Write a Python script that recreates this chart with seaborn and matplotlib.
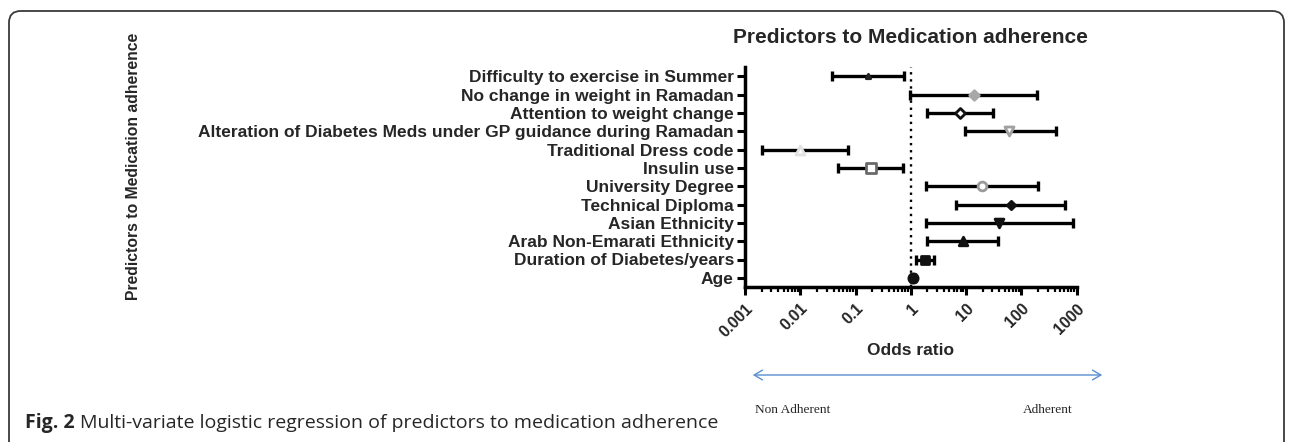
import numpy as np
import pandas as pd
import matplotlib
matplotlib.use("Agg")
import matplotlib.pyplot as plt
import seaborn as sns
from matplotlib.patches import FancyBboxPatch, FancyArrowPatch
from matplotlib.ticker import LogLocator, FixedLocator, FixedFormatter, NullFormatter

# ---------------- data ----------------
predictors = [
    "Difficulty to exercise in Summer",
    "No change in weight in Ramadan",
    "Attention to weight change",
    "Alteration of Diabetes Meds under GP guidance during Ramadan",
    "Traditional Dress code",
    "Insulin use",
    "University Degree",
    "Technical Diploma",
    "Asian Ethnicity",
    "Arab Non-Emarati Ethnicity",
    "Duration of Diabetes/years",
    "Age",
]
odds_ratio = [0.17, 13.7, 7.9, 61, 0.010, 0.19, 19.4, 65, 39, 8.8, 1.83, 1.10]
ci_low = [0.038, 0.98, 1.96, 9.4, 0.0020, 0.049, 1.88, 6.6, 1.88, 2.0, 1.26, 1.03]
ci_high = [0.77, 196, 31, 420, 0.073, 0.71, 200, 620, 860, 38, 2.66, 1.17]
x_tick_values = [0.001, 0.01, 0.1, 1, 10, 100, 1000]
x_tick_labels = ["0.001", "0.01", "0.1", "1", "10", "100", "1000"]

# marker styles (marker, face colour, edge colour, size)
marker_styles = [
    ("^", "#222222", "#222222", 10),
    ("D", "#a8a8a8", "#a8a8a8", 24),
    ("D", "white", "#111111", 26),
    ("v", "white", "#a0a0a0", 42),
    ("^", "white", "#e2e2e2", 42),
    ("s", "white", "#6a6a6a", 46),
    ("o", "white", "#9a9a9a", 40),
    ("D", "#111111", "#111111", 18),
    ("v", "#111111", "#111111", 40),
    ("^", "#111111", "#111111", 38),
    ("s", "#111111", "#111111", 36),
    ("o", "#111111", "#111111", 44),
]

df = pd.DataFrame({"predictor": predictors, "or": odds_ratio,
                   "lo": ci_low, "hi": ci_high})
df["y"] = np.arange(len(df))

# ---------------- style ----------------
sns.set_style("ticks")
plt.rcParams["font.family"] = ["Liberation Sans", "DejaVu Sans"]
plt.rcParams["font.weight"] = "bold"

W, H = 1290, 442
fig = plt.figure(figsize=(W / 100, H / 100), dpi=100)
ax = fig.add_axes([745 / W, 1 - 287 / H, (1076.5 - 745) / W, (287 - 67) / H])

# error bars
xerr = np.vstack([df["or"] - df["lo"], df["hi"] - df["or"]])
ax.errorbar(df["or"], df["y"], xerr=xerr, fmt="none", ecolor="black",
            elinewidth=2.4, capsize=3.8, capthick=2.4, zorder=2)

# markers via seaborn scatter (one call per style)
for i, (m, fc, ec, s) in enumerate(marker_styles):
    sub = df.iloc[[i]]
    sns.scatterplot(data=sub, x="or", y="y", marker=m, s=s, color=fc,
                    edgecolor=ec, linewidth=2.0, ax=ax, zorder=3, legend=False)

# reference line at OR = 1
ax.axvline(1, color="black", linestyle=(0, (1, 2.0)), linewidth=1.7, zorder=1)

ax.set_xscale("log")
ax.set_xlim(0.001, 1000)
ax.set_ylim(len(df) - 0.5, -0.5)
ax.set_yticks(df["y"])
ax.set_yticklabels(df["predictor"], fontsize=12.5, fontweight="bold")
ax.xaxis.set_major_locator(FixedLocator(x_tick_values))
ax.xaxis.set_major_formatter(FixedFormatter(x_tick_labels))
ax.xaxis.set_minor_locator(LogLocator(base=10, subs=np.arange(2, 10), numticks=20))
ax.xaxis.set_minor_formatter(NullFormatter())
for lab in ax.get_xticklabels():
    lab.set_rotation(45)
    lab.set_ha("right")
    lab.set_va("top")
    lab.set_rotation_mode("anchor")
    lab.set_fontsize(11.5)
    lab.set_fontweight("bold")

ax.tick_params(axis="both", which="major", length=6, width=2.2, color="black", pad=2)
ax.tick_params(axis="x", which="minor", length=3.5, width=1.6, color="black")
ax.tick_params(axis="x", which="major", pad=4)
for side in ["left", "bottom"]:
    ax.spines[side].set_linewidth(2.5)
    ax.spines[side].set_color("black")
sns.despine(ax=ax)
ax.set_xlabel("Odds ratio", fontsize=12.5, fontweight="bold", labelpad=2)
ax.set_ylabel("")
ax.set_title("Predictors to Medication adherence", fontsize=15,
             fontweight="bold", pad=17)

fig.text(133 / W, 1 - 166 / H, "Predictors to Medication adherence",
         rotation=90, ha="center", va="center", fontsize=11.3, fontweight="bold")

# direction arrow below the axis
arrow = FancyArrowPatch((750 / W, 1 - 375 / H), (1105 / W, 1 - 375 / H),
                        transform=fig.transFigure, arrowstyle="<->,head_length=6,head_width=3.5",
                        color="#5b8ed0", linewidth=1.0, mutation_scale=1)
fig.patches.append(arrow)
fig.text(793 / W, 1 - 410 / H, "Non Adherent", ha="center", va="center",
         fontsize=9.6, family="Liberation Serif", fontweight="normal")
fig.text(1048 / W, 1 - 410 / H, "Adherent", ha="center", va="center",
         fontsize=9.6, family="Liberation Serif", fontweight="normal")

# outer rounded frame (open at the bottom)
frame = FancyBboxPatch((9 / W, -0.2), (1284 - 9) / W, 1.2 - 11 / H,
                       boxstyle="round,pad=0,rounding_size=0.009",
                       transform=fig.transFigure, fill=False,
                       edgecolor="#3a3a3a", linewidth=1.3, mutation_aspect=W / H)
fig.patches.append(frame)

# caption
fig.text(25 / W, 1 - 423 / H, "Fig. 2", ha="left", va="center", fontsize=14,
         family="Open Sans", fontweight="bold")
fig.text(80 / W, 1 - 423 / H,
         "Multi-variate logistic regression of predictors to medication adherence",
         ha="left", va="center", fontsize=14, family="Open Sans", fontweight="normal")

fig.savefig("out.png", dpi=100)
